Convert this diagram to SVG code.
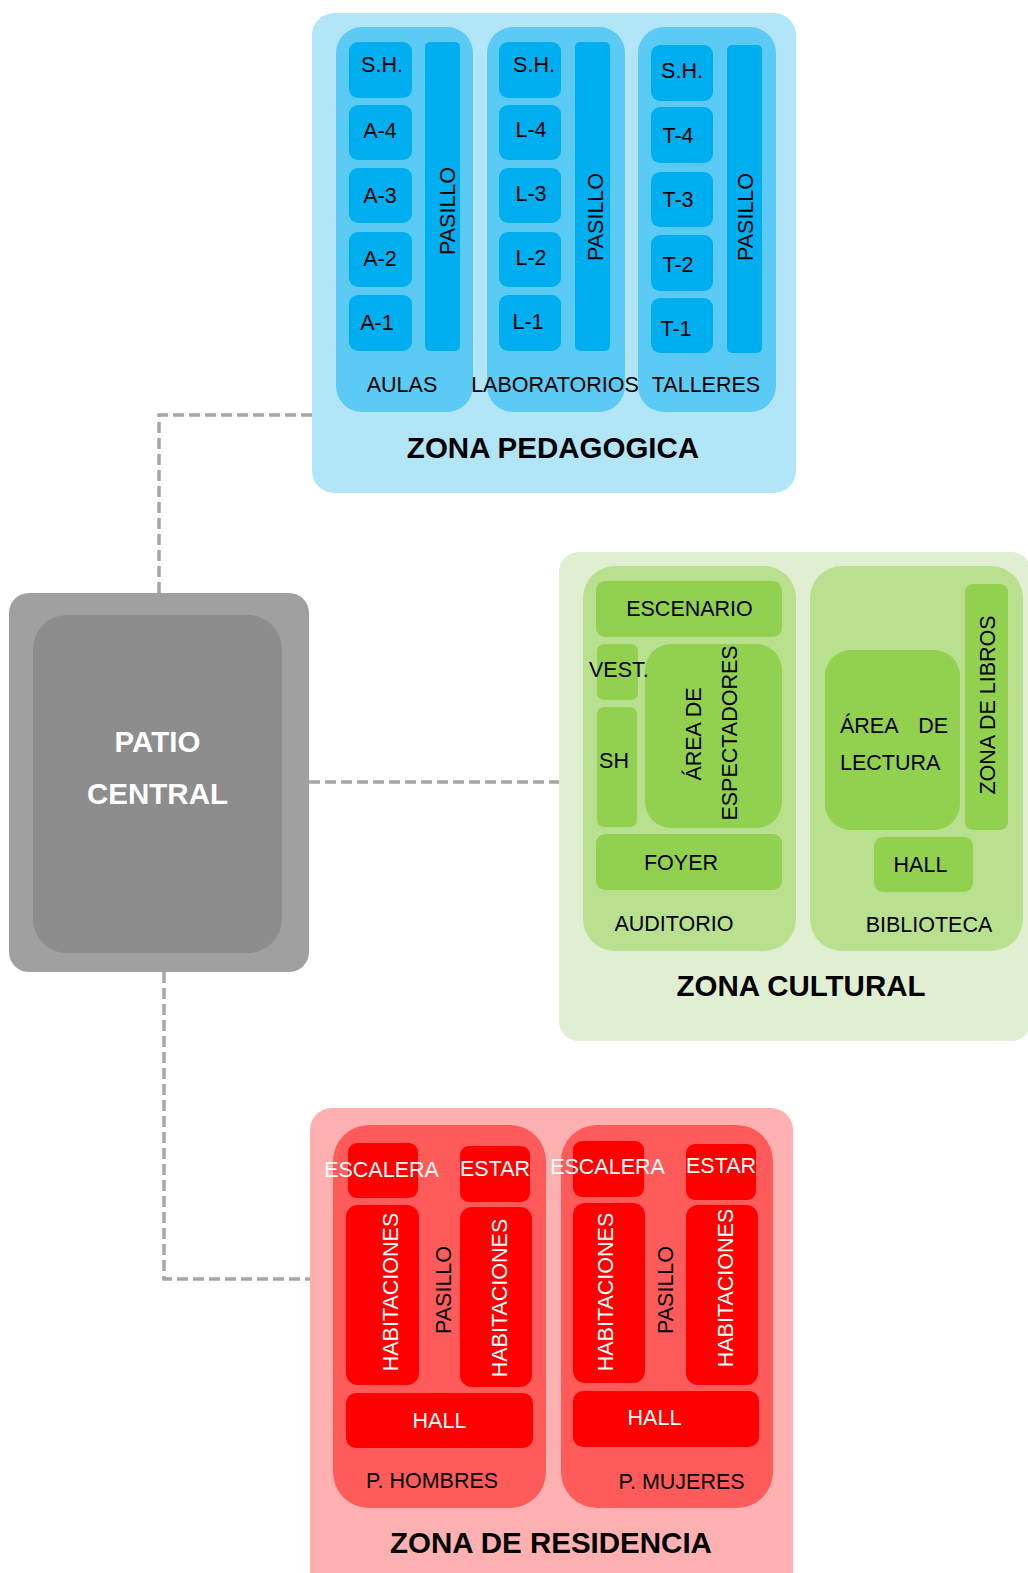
<svg xmlns="http://www.w3.org/2000/svg" width="1028" height="1573" viewBox="0 0 1028 1573">
  <style>
    text { font-family: "Liberation Sans", Arial, sans-serif; font-size: 21.5px; fill: #000; }
    .mid { text-anchor: middle; }
    .title { font-size: 29.5px; font-weight: bold; text-anchor: middle; }
    .w { fill: #fff; }
    .b-zone { fill: #B3E5F8; }
    .b-col { fill: #5BCAF4; }
    .b-room { fill: #00AFEF; }
    .g-zone { fill: #E0EFD1; }
    .g-col { fill: #B9E08E; }
    .g-room { fill: #92D050; }
    .r-zone { fill: #FFB1B1; }
    .r-col { fill: #FF5B5B; }
    .r-room { fill: #FE0000; }
    .link { fill: none; stroke: #A6A6A6; stroke-width: 3.5; stroke-dasharray: 11 5; }
  </style>

  <!-- connectors between the central patio and the zones -->
  <g id="connectors">
    <path class="link" d="M159 593 V415 H313"/>
    <path class="link" d="M309 782 H559"/>
    <path class="link" d="M164 972 V1279 H310"/>
  </g>

  <!-- central patio -->
  <g id="patio-central">
    <rect x="9" y="593" width="300" height="379" rx="20" fill="#A0A0A0"/>
    <rect x="33" y="615" width="249" height="338" rx="34" fill="#8D8D8D"/>
    <text class="title w" x="157.5" y="752">PATIO</text>
    <text class="title w" x="157.5" y="804">CENTRAL</text>
  </g>

  <!-- pedagogical zone -->
  <g id="zona-pedagogica">
    <rect class="b-zone" x="312" y="13" width="484" height="480" rx="22"/>
    <text class="title" x="553" y="458">ZONA PEDAGOGICA</text>

    <g id="aulas">
      <rect class="b-col" x="336" y="27" width="137" height="385" rx="26"/>
      <rect class="b-room" x="349" y="42" width="63" height="56" rx="9"/>
      <rect class="b-room" x="349" y="105" width="63" height="55" rx="9"/>
      <rect class="b-room" x="349" y="168" width="63" height="55" rx="9"/>
      <rect class="b-room" x="349" y="232" width="63" height="55" rx="9"/>
      <rect class="b-room" x="349" y="295" width="63" height="56" rx="9"/>
      <rect class="b-room" x="425" y="42" width="35" height="309" rx="5"/>
      <text class="mid" x="382" y="72">S.H.</text>
      <text class="mid" x="380" y="138">A-4</text>
      <text class="mid" x="380" y="203">A-3</text>
      <text class="mid" x="380" y="266">A-2</text>
      <text class="mid" x="377" y="330">A-1</text>
      <text class="mid" transform="translate(455 211) rotate(-90)">PASILLO</text>
      <text class="mid" x="402" y="392">AULAS</text>
    </g>

    <g id="laboratorios">
      <rect class="b-col" x="487" y="27" width="138" height="385" rx="26"/>
      <rect class="b-room" x="499" y="42" width="62" height="56" rx="9"/>
      <rect class="b-room" x="499" y="105" width="62" height="55" rx="9"/>
      <rect class="b-room" x="499" y="168" width="62" height="55" rx="9"/>
      <rect class="b-room" x="499" y="232" width="62" height="55" rx="9"/>
      <rect class="b-room" x="499" y="295" width="62" height="56" rx="9"/>
      <rect class="b-room" x="575" y="42" width="35" height="309" rx="5"/>
      <text class="mid" x="534" y="72">S.H.</text>
      <text class="mid" x="531" y="137">L-4</text>
      <text class="mid" x="531" y="201">L-3</text>
      <text class="mid" x="531" y="265">L-2</text>
      <text class="mid" x="528" y="329">L-1</text>
      <text class="mid" transform="translate(603 217) rotate(-90)">PASILLO</text>
      <text class="mid" x="555" y="392">LABORATORIOS</text>
    </g>

    <g id="talleres">
      <rect class="b-col" x="638" y="27" width="138" height="385" rx="26"/>
      <rect class="b-room" x="651" y="45" width="62" height="56" rx="9"/>
      <rect class="b-room" x="651" y="107" width="62" height="56" rx="9"/>
      <rect class="b-room" x="651" y="172" width="62" height="55" rx="9"/>
      <rect class="b-room" x="651" y="235" width="62" height="56" rx="9"/>
      <rect class="b-room" x="651" y="298" width="62" height="55" rx="9"/>
      <rect class="b-room" x="727" y="45" width="35" height="308" rx="5"/>
      <text class="mid" x="682" y="78">S.H.</text>
      <text class="mid" x="678" y="143">T-4</text>
      <text class="mid" x="678" y="207">T-3</text>
      <text class="mid" x="678" y="272">T-2</text>
      <text class="mid" x="676" y="336">T-1</text>
      <text class="mid" transform="translate(753 217) rotate(-90)">PASILLO</text>
      <text class="mid" x="706" y="392">TALLERES</text>
    </g>
  </g>

  <!-- cultural zone -->
  <g id="zona-cultural">
    <rect class="g-zone" x="559" y="552" width="472" height="489" rx="20"/>
    <text class="title" x="801" y="996">ZONA CULTURAL</text>

    <g id="auditorio">
      <rect class="g-col" x="583" y="566" width="213" height="385" rx="32"/>
      <rect class="g-room" x="596" y="581" width="186" height="56" rx="9"/>
      <rect class="g-room" x="597" y="644" width="41" height="56" rx="7"/>
      <rect class="g-room" x="597" y="707" width="40" height="120" rx="7"/>
      <rect class="g-room" x="645" y="644" width="137" height="184" rx="26"/>
      <rect class="g-room" x="596" y="834" width="186" height="56" rx="9"/>
      <text class="mid" x="689.5" y="616">ESCENARIO</text>
      <text x="589" y="677">VEST.</text>
      <text class="mid" x="614" y="768">SH</text>
      <text class="mid" transform="translate(701 734) rotate(-90)">ÁREA DE</text>
      <text class="mid" transform="translate(737 733) rotate(-90)">ESPECTADORES</text>
      <text class="mid" x="681" y="870">FOYER</text>
      <text class="mid" x="674" y="931">AUDITORIO</text>
    </g>

    <g id="biblioteca">
      <rect class="g-col" x="810" y="566" width="213" height="385" rx="32"/>
      <rect class="g-room" x="825" y="650" width="135" height="180" rx="26"/>
      <rect class="g-room" x="965" y="584" width="43" height="246" rx="8"/>
      <rect class="g-room" x="874" y="837" width="99" height="55" rx="9"/>
      <text x="840" y="733">ÁREA</text>
      <text x="948" y="733" text-anchor="end">DE</text>
      <text x="840" y="770">LECTURA</text>
      <text class="mid" transform="translate(995 705) rotate(-90)">ZONA DE LIBROS</text>
      <text class="mid" x="920.5" y="872">HALL</text>
      <text class="mid" x="929" y="932">BIBLIOTECA</text>
    </g>
  </g>

  <!-- residential zone -->
  <g id="zona-residencia">
    <rect class="r-zone" x="310" y="1108" width="483" height="490" rx="22"/>
    <text class="title" x="551" y="1553">ZONA DE RESIDENCIA</text>

    <g id="pabellon-hombres">
      <rect class="r-col" x="333" y="1125" width="213" height="383" rx="36"/>
      <rect class="r-room" x="348" y="1143" width="70" height="55" rx="9"/>
      <rect class="r-room" x="460" y="1146" width="70" height="56" rx="9"/>
      <rect class="r-room" x="346" y="1205" width="73" height="180" rx="12"/>
      <rect class="r-room" x="460" y="1207" width="72" height="180" rx="12"/>
      <rect class="r-room" x="346" y="1393" width="187" height="55" rx="10"/>
      <text class="mid w" x="381.5" y="1177">ESCALERA</text>
      <text class="mid w" x="495" y="1176">ESTAR</text>
      <text class="mid w" transform="translate(398 1292) rotate(-90)">HABITACIONES</text>
      <text class="mid" transform="translate(451 1290) rotate(-90)">PASILLO</text>
      <text class="mid w" transform="translate(507 1298) rotate(-90)">HABITACIONES</text>
      <text class="mid w" x="439.5" y="1428">HALL</text>
      <text class="mid" x="432" y="1488">P. HOMBRES</text>
    </g>

    <g id="pabellon-mujeres">
      <rect class="r-col" x="561" y="1125" width="212" height="383" rx="36"/>
      <rect class="r-room" x="573" y="1141" width="71" height="56" rx="9"/>
      <rect class="r-room" x="686" y="1144" width="70" height="56" rx="9"/>
      <rect class="r-room" x="573" y="1203" width="72" height="180" rx="12"/>
      <rect class="r-room" x="686" y="1205" width="72" height="180" rx="12"/>
      <rect class="r-room" x="573" y="1391" width="186" height="56" rx="10"/>
      <text class="mid w" x="607.5" y="1174">ESCALERA</text>
      <text class="mid w" x="721" y="1173">ESTAR</text>
      <text class="mid w" transform="translate(613 1292) rotate(-90)">HABITACIONES</text>
      <text class="mid" transform="translate(673 1290) rotate(-90)">PASILLO</text>
      <text class="mid w" transform="translate(733 1288) rotate(-90)">HABITACIONES</text>
      <text class="mid w" x="654.5" y="1425">HALL</text>
      <text class="mid" x="681.5" y="1489">P. MUJERES</text>
    </g>
  </g>
</svg>
